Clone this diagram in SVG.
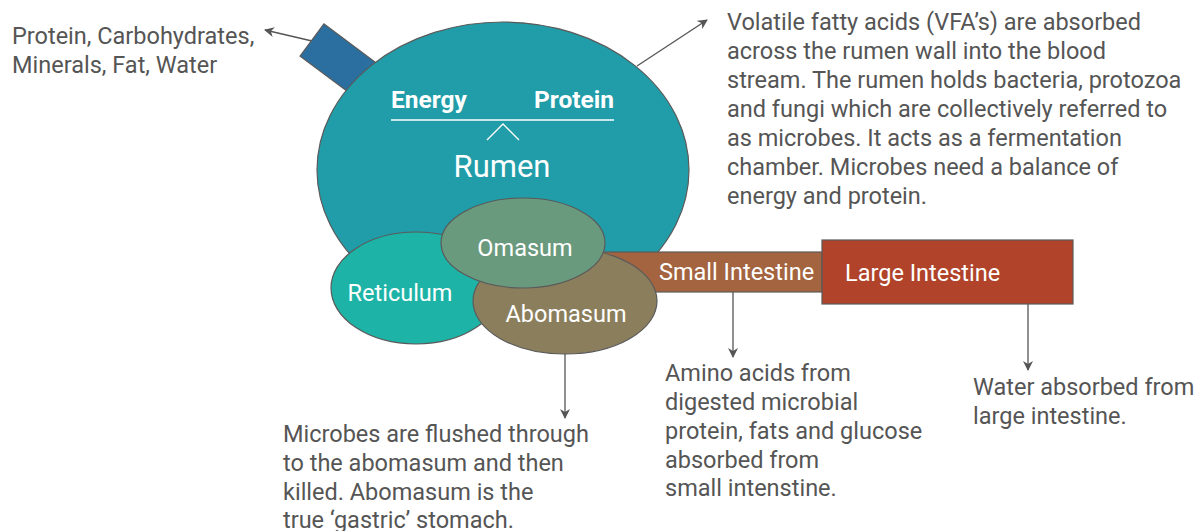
<svg xmlns="http://www.w3.org/2000/svg" width="1201" height="531" viewBox="0 0 1201 531">
<defs>
<marker id="arr" viewBox="0 0 10 10" refX="9" refY="5" markerWidth="10" markerHeight="10" markerUnits="userSpaceOnUse" orient="auto">
<path d="M0,0 L10,5 L0,10 L3,5 Z" fill="#555"/>
</marker>
<style>
.organ{stroke:#5a5a5a;stroke-width:1.2}
.lbl{font-family:Roboto,"Liberation Sans",sans-serif;fill:#fff;font-size:23.5px}
.bold{font-weight:bold;font-size:24.5px}
.big{font-size:31px}
.note{font-family:Roboto,"Liberation Sans",sans-serif;fill:#555;font-size:23.5px}
.conn{stroke:#555;stroke-width:1.3;fill:none;marker-end:url(#arr)}
</style>
</defs>
<rect width="1201" height="531" fill="#fff"/>
<g id="connectors">
<line class="conn" x1="312" y1="41" x2="265" y2="30"/>
<line class="conn" x1="637" y1="66" x2="707" y2="20"/>
<line class="conn" x1="733" y1="292" x2="733" y2="357"/>
<line class="conn" x1="1028" y1="304" x2="1028" y2="370"/>
<line class="conn" x1="565" y1="354" x2="565" y2="418"/>
</g>
<g id="esophagus">
<rect class="organ" x="0" y="-20" width="80" height="40" fill="#2a6fa0" transform="translate(312 40) rotate(36.7)"/>
</g>
<g id="rumen">
<ellipse class="organ" cx="503" cy="170" rx="186" ry="148" fill="#209da8"/>
<text class="lbl bold" x="391" y="108">Energy</text>
<text class="lbl bold" x="614" y="108" text-anchor="end">Protein</text>
<line x1="391" y1="120" x2="614" y2="120" stroke="#fff" stroke-width="1.5"/>
<polyline points="487,140 503,124 519,140" fill="none" stroke="#fff" stroke-width="1.3"/>
<text class="lbl big" x="502" y="177" text-anchor="middle">Rumen</text>
</g>
<g id="small-intestine">
<rect class="organ" x="600" y="252" width="222" height="40" fill="#a3643f"/>
<text class="lbl" x="659" y="280">Small Intestine</text>
</g>
<g id="large-intestine">
<rect class="organ" x="822" y="240" width="251" height="64" fill="#b0432a"/>
<text class="lbl" x="845" y="281">Large Intestine</text>
</g>
<g id="reticulum">
<ellipse class="organ" cx="416" cy="288" rx="85" ry="56" fill="#1db3a6"/>
<text class="lbl" x="400" y="301" text-anchor="middle">Reticulum</text>
</g>
<g id="abomasum">
<ellipse class="organ" cx="565" cy="301" rx="92" ry="53" fill="#8b7e5c"/>
<text class="lbl" x="566" y="322" text-anchor="middle">Abomasum</text>
</g>
<g id="omasum">
<ellipse class="organ" cx="523" cy="243" rx="82" ry="45" fill="#6a9a7e"/>
<text class="lbl" x="525" y="256" text-anchor="middle">Omasum</text>
</g>
<g id="note-feed">
<text class="note" x="12" y="44">Protein, Carbohydrates,</text>
<text class="note" x="12" y="73">Minerals, Fat, Water</text>
</g>
<g id="note-rumen">
<text class="note" x="727" y="30">Volatile fatty acids (VFA’s) are absorbed</text>
<text class="note" x="727" y="59">across the rumen wall into the blood</text>
<text class="note" x="727" y="88">stream. The rumen holds bacteria, protozoa</text>
<text class="note" x="727" y="117">and fungi which are collectively referred to</text>
<text class="note" x="727" y="146">as microbes. It acts as a fermentation</text>
<text class="note" x="727" y="175">chamber. Microbes need a balance of</text>
<text class="note" x="727" y="204">energy and protein.</text>
</g>
<g id="note-abomasum">
<text class="note" x="283" y="442">Microbes are flushed through</text>
<text class="note" x="283" y="471">to the abomasum and then</text>
<text class="note" x="283" y="500">killed. Abomasum is the</text>
<text class="note" x="283" y="528">true ‘gastric’ stomach.</text>
</g>
<g id="note-small">
<text class="note" x="665" y="381">Amino acids from</text>
<text class="note" x="665" y="410">digested microbial</text>
<text class="note" x="665" y="439">protein, fats and glucose</text>
<text class="note" x="665" y="468">absorbed from</text>
<text class="note" x="665" y="496">small intenstine.</text>
</g>
<g id="note-large">
<text class="note" x="973" y="395">Water absorbed from</text>
<text class="note" x="973" y="424">large intestine.</text>
</g>
</svg>
